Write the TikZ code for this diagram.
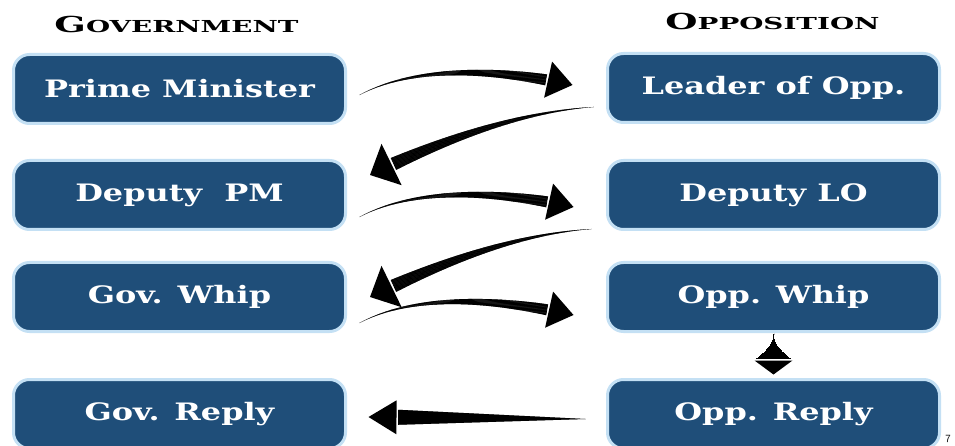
\documentclass[tikz,border=0pt]{standalone}
\usepackage{fontspec}
\setmainfont{DejaVu Serif}
\newfontfamily\boxfont[FakeStretch=1.33]{DejaVu Serif}
\newfontfamily\headfont[FakeStretch=1.68]{DejaVu Serif}
\usetikzlibrary{calc,decorations.markings}
\definecolor{boxblue}{RGB}{31,78,121}
\definecolor{boxrim}{RGB}{196,224,244}
\def\smcp#1#2{{\fontsize{22}{26}\selectfont#1}{\fontsize{16.5}{20}\selectfont#2}}

\tikzset{
  house/.style={draw=boxrim, line width=3pt, fill=boxblue, rounded corners=16pt,
    minimum width=332pt, minimum height=69pt, text=white,
    font=\boxfont\bfseries\fontsize{24}{28}\selectfont},
  side/.style={font=\headfont\bfseries, text=black, anchor=base, inner sep=0pt},
  % tapered arrow, path runs from the tip back to the tail
  % args: body width at head, head length, head width, growth
  taper/.style n args={4}{
    postaction={decorate, decoration={markings,
      mark=at position 0 with {
        \fill[black] (0pt,0pt) -- (#2 pt,#3/2 pt) -- (#2 pt,-#3/2 pt) -- cycle;},
      mark=between positions 0 and 1 step 0.5pt with {
        \pgfmathsetmacro\bodylen{\pgfdecoratedpathlength-#2-1.5}
        \pgfmathsetmacro\here{\pgfdecoratedpathlength-\pgfkeysvalueof{/pgf/decoration/mark info/distance from start}}
        \ifdim\here pt<\bodylen pt
          \pgfmathsetmacro\halfw{#1/2*(\here/\bodylen)^#4}
          \fill[black] (-0.4pt,-\halfw pt) rectangle (0.4pt,\halfw pt);
        \fi}}}}
}

\begin{document}
\begin{tikzpicture}[x=1pt,y=-1pt]
  \fill[white] (0,0) rectangle (955,446);
  \useasboundingbox (0,0) rectangle (955,446);

  %%%%% headings %%%%%
  \node[side] (govt) at (176.5,32.5) {\smcp{G}{OVERNMENT}};
  \node[side] (opp) at (772.5,29.3) {\smcp{O}{PPOSITION}};

  %%%%% government side %%%%%
  \node[house] (pm) at (179.5,89) {Prime Minister};
  \node[house] (dpm) at (179.5,195) {Deputy\ \ PM};
  \node[house] (gw) at (179.5,297) {Gov. Whip};
  \node[house] (gr) at (179.5,414) {Gov. Reply};

  %%%%% opposition side %%%%%
  \node[house] (lo) at (773.5,88) {Leader of Opp.};
  \node[house] (dlo) at (773.5,195) {Deputy LO};
  \node[house] (ow) at (773.5,297) {Opp. Whip};
  \node[house] (orp) at (773.5,414) {Opp. Reply};

  %%%%% speaking order (tip first) %%%%%
  \path[taper={11}{25}{37}{1.3}] ($(lo.west)+(-33.5,-3)$) .. controls +(-59,-13) and +(62,-33) .. ($(pm.east)+(12.5,6)$);
  \path[taper={13}{24}{46}{1.3}] ($(dpm.east)+(23,-20)$) .. controls +(70,-34) and +(-75,5) .. ($(lo.west)+(-12.5,19)$);
  \path[taper={11}{25}{37}{1.3}] ($(dlo.west)+(-32.5,12)$) .. controls +(-59,-13) and +(62,-33) .. ($(dpm.east)+(12.5,22)$);
  \path[taper={13}{24}{46}{1.3}] ($(gw.east)+(23,0)$) .. controls +(70,-34) and +(-75,5) .. ($(dlo.west)+(-14.5,34)$);
  \path[taper={11}{25}{37}{1.3}] ($(ow.west)+(-32.5,18)$) .. controls +(-59,-13) and +(62,-33) .. ($(gw.east)+(12.5,26)$);
  \path[taper={36}{14}{38}{2}] ($(orp.north)+(0,-3.5)$) -- ($(ow.south)+(0,0.5)$);
  \path[taper={15}{28}{34}{1}] ($(gr.east)+(21.5,3)$) -- ($(orp.west)+(-20.5,5)$);

  \node[font=\sffamily\fontsize{11}{12}\selectfont, inner sep=0pt] (pg) at (948,439) {7};
\end{tikzpicture}
\end{document}
